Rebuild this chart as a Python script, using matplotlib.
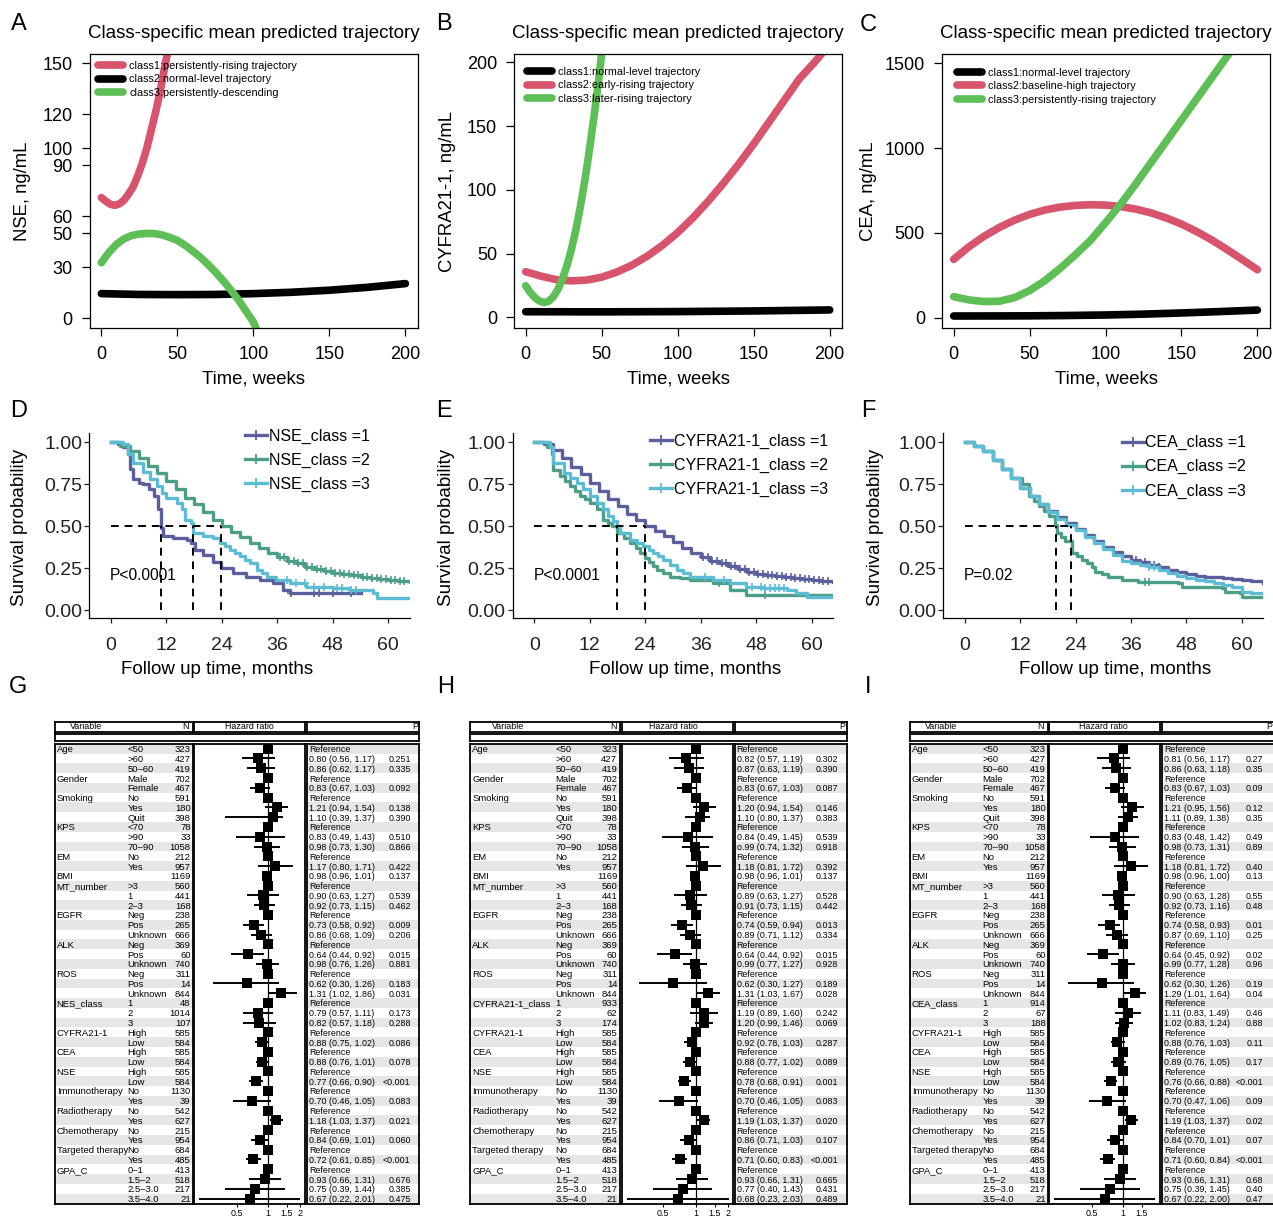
#!/usr/bin/env python3
"""
肿瘤标志物潜在类别轨迹、Kaplan-Meier生存曲线与多因素Cox森林图
"""
import numpy as np
import matplotlib
matplotlib.use('Agg')
import matplotlib.pyplot as plt
from matplotlib.lines import Line2D
from matplotlib.ticker import NullLocator

plt.rcParams['font.family'] = ['Liberation Sans', 'DejaVu Sans']

W, H = 1273, 1217

# ---------------- A-C: 各类别平均预测轨迹 ----------------
nse_weeks_1 = [0, 3, 6, 9, 12, 15, 18, 21, 24, 27, 30, 33, 36, 39, 42, 44]
nse_level_1 = [71.0, 68.8, 67.0, 66.5, 67.4, 69.6, 73.3, 77.5, 84.0, 91.5, 100.5, 111.5, 122.5, 135.0, 149.5, 158.0]
nse_weeks_2 = [0, 25, 50, 75, 100, 125, 150, 175, 200]
nse_level_2 = [14.5, 14.0, 13.9, 14.0, 14.5, 15.3, 16.5, 18.2, 20.4]
nse_weeks_3 = [0, 5, 10, 15, 20, 25, 30, 35, 40, 45, 50, 55, 60, 65, 70, 75, 80, 85, 90, 95, 100, 102]
nse_level_3 = [32.7, 38.8, 43.6, 46.8, 48.7, 49.6, 49.9, 49.8, 49.0, 47.6, 45.8, 43.0, 39.6, 36.0, 31.8, 27.2,
               22.2, 16.8, 11.0, 4.4, -2.2, -6.5]
nse_labels = ['class1:persistently-rising trajectory', 'class2:normal-level trajectory',
              'class3:persistently-descending']

cyf_weeks_1 = [0, 50, 100, 150, 200]
cyf_level_1 = [4.4, 4.3, 4.5, 5.0, 5.8]
cyf_weeks_2 = [0, 10, 20, 30, 40, 50, 60, 70, 80, 90, 100, 110, 120, 130, 140, 150, 160, 170, 180, 190, 197]
cyf_level_2 = [35.8, 32.3, 29.6, 28.6, 29.2, 31.5, 35.5, 41.0, 48.0, 56.5, 66.5, 78.0, 91.0, 105.0, 120.0,
               136.0, 153.0, 170.0, 187.0, 200.0, 210.0]
cyf_weeks_3 = [0, 3, 6, 9, 12, 15, 18, 21, 24, 27, 30, 33, 36, 39, 42, 45, 48, 50]
cyf_level_3 = [24.8, 19.5, 15.5, 12.8, 11.6, 12.5, 15.8, 21.5, 29.5, 40.0, 53.0, 68.5, 87.0, 108.0, 132.0,
               158.0, 186.0, 207.0]
cyf_labels = ['class1:normal-level trajectory', 'class2:early-rising trajectory',
              'class3:later-rising trajectory']

cea_weeks_1 = [0, 25, 50, 75, 100, 125, 150, 175, 200]
cea_level_1 = [10, 10.3, 11, 13, 16, 21, 28, 36, 45]
cea_weeks_2 = [0, 10, 20, 30, 40, 50, 60, 70, 80, 90, 100, 110, 120, 130, 140, 150, 160, 170, 180, 190, 200]
cea_level_2 = [344, 418, 480, 532, 575, 609, 635, 652, 662, 666, 664, 655, 640, 618, 588, 552, 508, 458,
               402, 343, 283]
cea_weeks_3 = [0, 10, 20, 30, 40, 50, 60, 70, 80, 90, 100, 110, 120, 130, 140, 150, 160, 170, 180, 184]
cea_level_3 = [124, 105, 95, 97, 118, 160, 218, 290, 370, 455, 560, 670, 790, 915, 1040, 1165, 1290, 1415,
               1540, 1590]
cea_labels = ['class1:normal-level trajectory', 'class2:baseline-high trajectory',
              'class3:persistently-rising trajectory']

# ---------------- D-F: 生存曲线 (月, 生存率) ----------------
nse_km_t1 = [0, 1.5, 2.7, 3.7, 4.0, 4.8, 6.0, 7.0, 8.2, 9.2, 10.2, 10.8, 11.3, 13.5, 16.4, 17.4, 18.2, 20.0,
             22.1, 23.9, 26.5, 29.3, 32.2, 35.1, 37.3, 38.7, 54.2]
nse_km_s1 = [1.00, 0.99, 0.97, 0.93, 0.84, 0.78, 0.76, 0.75, 0.72, 0.68, 0.60, 0.49, 0.44, 0.43, 0.42, 0.40,
             0.36, 0.33, 0.29, 0.25, 0.22, 0.20, 0.18, 0.16, 0.12, 0.10, 0.10]
nse_km_t2 = [0, 2, 4, 6, 8, 10, 12, 14, 16, 18, 20, 22, 24, 26, 28, 30, 32, 34, 36, 38, 40, 42, 44, 46, 48,
             50, 52, 54, 56, 58, 60, 62, 64.7]
nse_km_s2 = [1.00, 0.98, 0.945, 0.905, 0.86, 0.815, 0.77, 0.72, 0.67, 0.63, 0.585, 0.54, 0.50, 0.465, 0.435,
             0.40, 0.37, 0.34, 0.315, 0.295, 0.28, 0.26, 0.245, 0.235, 0.222, 0.215, 0.208, 0.20, 0.192,
             0.185, 0.178, 0.173, 0.17]
nse_km_t3 = [0, 2.7, 3.7, 4.8, 7.0, 8.5, 9.9, 11.0, 12.0, 14.2, 15.3, 16.0, 17.4, 17.8, 20.0, 22.1, 23.6,
             24.7, 25.7, 26.8, 27.9, 29.0, 30.0, 31.5, 32.6, 33.7, 35.8, 38.7, 42.3, 48.1, 51.7, 56.7, 57.5,
             64.7]
nse_km_s3 = [1.00, 0.99, 0.93, 0.875, 0.825, 0.78, 0.74, 0.70, 0.67, 0.64, 0.60, 0.54, 0.52, 0.46, 0.44,
             0.43, 0.40, 0.38, 0.36, 0.34, 0.32, 0.30, 0.28, 0.24, 0.22, 0.20, 0.18, 0.16, 0.14, 0.13, 0.12,
             0.10, 0.07, 0.07]
nse_cens_1 = [39, 44, 45, 48, 52]
nse_cens_2 = [36.5, 37.5, 38.5, 39.5, 40.5, 41.5, 42.5, 43.5, 44.5, 45.5, 46.5, 47.5, 48.5, 49.5, 50.5,
              51.5, 52.5, 53.5, 54.5, 55.5, 56.5, 57.5, 58.5, 59.5, 60.5, 61.5, 62.5, 63.5]
nse_cens_3 = [38, 40, 42, 44, 46, 49, 50, 52, 53]
nse_medians = [10.8, 17.8, 23.9]

cyf_km_t1 = [0, 2, 4, 6, 8, 10, 12, 14, 16, 18, 20, 22, 24, 26, 28, 30, 32, 34, 36, 38, 40, 42, 44, 46, 48,
             50, 52, 54, 56, 58, 60, 62, 64.7]
cyf_km_s1 = [1.00, 0.99, 0.955, 0.905, 0.855, 0.81, 0.76, 0.71, 0.665, 0.62, 0.575, 0.535, 0.50, 0.47, 0.44,
             0.405, 0.37, 0.34, 0.315, 0.295, 0.28, 0.262, 0.245, 0.23, 0.218, 0.208, 0.202, 0.198, 0.192,
             0.187, 0.181, 0.176, 0.17]
cyf_km_t2 = [0, 2.7, 3.7, 4.1, 5.6, 6.6, 7.7, 8.8, 9.9, 11.0, 12.0, 13.5, 14.9, 16.0, 16.7, 17.8, 19.3, 20.7,
             22.0, 22.9, 24.0, 24.7, 25.6, 26.5, 27.8, 29.4, 31.5, 33.7, 38.7, 42.3, 45.9, 64.7]
cyf_km_s2 = [1.00, 0.97, 0.93, 0.835, 0.80, 0.77, 0.74, 0.71, 0.68, 0.66, 0.64, 0.60, 0.54, 0.52, 0.50, 0.46,
             0.43, 0.40, 0.37, 0.34, 0.31, 0.29, 0.265, 0.24, 0.22, 0.20, 0.19, 0.18, 0.16, 0.12, 0.09, 0.09]
cyf_km_t3 = [0, 3.4, 4.1, 6.3, 7.7, 9.2, 10.6, 12.0, 13.5, 14.9, 16.0, 17.1, 17.8, 18.5, 20.7, 22.1, 23.6,
             24.7, 25.7, 26.8, 27.9, 29.4, 30.8, 32.2, 33.7, 38.7, 42.3, 45.9, 49.5, 54.6, 56.7, 58.9, 64.7]
cyf_km_s3 = [1.00, 0.97, 0.875, 0.815, 0.79, 0.755, 0.72, 0.68, 0.64, 0.60, 0.56, 0.53, 0.50, 0.46, 0.42,
             0.40, 0.38, 0.36, 0.34, 0.32, 0.30, 0.27, 0.24, 0.22, 0.20, 0.18, 0.16, 0.14, 0.13, 0.12, 0.10,
             0.08, 0.08]
cyf_cens_1 = [36.5, 37.5, 38.5, 39.5, 40.5, 41.5, 42.5, 43.5, 44.5, 45.5, 46.5, 47.5, 48.5, 49.5, 50.5,
              51.5, 52.5, 53.5, 54.5, 55.5, 56.5, 57.5, 58.5, 59.5, 60.5, 61.5, 62.5, 63.5]
cyf_cens_2 = [40, 50]
cyf_cens_3 = [37, 41, 47, 49, 50, 51, 52, 53, 54]
cyf_medians = [23.9, 17.8, 17.8]

cea_km_t1 = [0, 2, 4, 6, 8, 10, 12, 14, 16, 18, 20, 22, 24, 26, 28, 30, 32, 34, 36, 38, 40, 42, 44, 46, 48,
             50, 52, 54, 56, 58, 60, 62, 64.7]
cea_km_s1 = [1.00, 0.98, 0.945, 0.895, 0.84, 0.785, 0.73, 0.68, 0.63, 0.59, 0.555, 0.52, 0.485, 0.445, 0.41,
             0.375, 0.345, 0.32, 0.30, 0.285, 0.27, 0.255, 0.238, 0.225, 0.213, 0.205, 0.20, 0.195, 0.19,
             0.184, 0.178, 0.172, 0.165]
cea_km_t2 = [0, 2, 4, 6, 8, 10, 12.4, 13.8, 15, 16, 17.2, 18.2, 19.6, 20.0, 20.9, 21.8, 23.2, 24.3, 25.4,
             26.5, 27.5, 28.3, 29.7, 31.1, 34.0, 37.6, 46.3, 47.0, 55.7, 56.4, 59.6, 60.0, 64.7]
cea_km_s2 = [1.00, 0.98, 0.945, 0.895, 0.84, 0.785, 0.75, 0.68, 0.65, 0.62, 0.59, 0.56, 0.51, 0.46, 0.435,
             0.41, 0.34, 0.32, 0.30, 0.28, 0.26, 0.23, 0.215, 0.20, 0.18, 0.17, 0.16, 0.14, 0.13, 0.11, 0.10,
             0.08, 0.08]
cea_km_t3 = [0, 2, 4, 6, 8, 10, 12, 14, 16, 18, 20, 22, 24, 26, 28, 30, 32, 34, 36, 38, 40, 42, 44, 46, 48,
             50, 52, 54, 56, 58, 60, 62, 64.7]
cea_km_s3 = [1.00, 0.98, 0.945, 0.895, 0.84, 0.785, 0.73, 0.68, 0.63, 0.585, 0.545, 0.51, 0.475, 0.435, 0.40,
             0.365, 0.33, 0.295, 0.28, 0.27, 0.255, 0.24, 0.222, 0.205, 0.193, 0.182, 0.172, 0.16, 0.15,
             0.138, 0.11, 0.105, 0.10]
cea_cens_1 = [37, 39, 40, 41, 42]
cea_cens_2 = [39, 40]
cea_cens_3 = [40, 41]
cea_medians = [23.1, 19.8, 23.1]

# ---------------- G-I: 多因素Cox回归 ----------------
head_vars = ['Age', '', '', 'Gender', '', 'Smoking', '', '', 'KPS', '', '', 'EM', '', 'BMI', 'MT_number', '',
             '', 'EGFR', '', '', 'ALK', '', '', 'ROS', '', '']
head_levels = ['<50', '>60', '50–60', 'Male', 'Female', 'No', 'Yes', 'Quit', '<70', '>90', '70–90', 'No',
               'Yes', '', '>3', '1', '2–3', 'Neg', 'Pos', 'Unknown', 'Neg', 'Pos', 'Unknown', 'Neg', 'Pos',
               'Unknown']
head_n = [323, 427, 419, 702, 467, 591, 180, 398, 78, 33, 1058, 212, 957, 1169, 560, 441, 168, 238, 265, 666,
          369, 60, 740, 311, 14, 844]
class_levels = ['1', '2', '3']
tail_vars = ['CYFRA21-1', '', 'CEA', '', 'NSE', '', 'Immunotherapy', '', 'Radiotherapy', '', 'Chemotherapy',
             '', 'Targeted therapy', '', 'GPA_C', '', '', '']
tail_levels = ['High', 'Low', 'High', 'Low', 'High', 'Low', 'No', 'Yes', 'No', 'Yes', 'No', 'Yes', 'No', 'Yes',
               '0–1', '1.5–2', '2.5–3.0', '3.5–4.0']
tail_n = [585, 584, 585, 584, 585, 584, 1130, 39, 542, 627, 215, 954, 684, 485, 413, 518, 217, 21]

nse_class_n = [48, 1014, 107]
cyf_class_n = [933, 62, 174]
cea_class_n = [914, 67, 188]

g_est = ['Reference', '0.80 (0.56, 1.17)', '0.86 (0.62, 1.17)', 'Reference', '0.83 (0.67, 1.03)',
         'Reference', '1.21 (0.94, 1.54)', '1.10 (0.39, 1.37)', 'Reference', '0.83 (0.49, 1.43)',
         '0.98 (0.73, 1.30)', 'Reference', '1.17 (0.80, 1.71)', '0.98 (0.96, 1.01)', 'Reference',
         '0.90 (0.63, 1.27)', '0.92 (0.73, 1.15)', 'Reference', '0.73 (0.58, 0.92)', '0.86 (0.68, 1.09)',
         'Reference', '0.64 (0.44, 0.92)', '0.98 (0.76, 1.26)', 'Reference', '0.62 (0.30, 1.26)',
         '1.31 (1.02, 1.86)', 'Reference', '0.79 (0.57, 1.11)', '0.82 (0.57, 1.18)', 'Reference',
         '0.88 (0.75, 1.02)', 'Reference', '0.88 (0.76, 1.01)', 'Reference', '0.77 (0.66, 0.90)',
         'Reference', '0.70 (0.46, 1.05)', 'Reference', '1.18 (1.03, 1.37)', 'Reference',
         '0.84 (0.69, 1.01)', 'Reference', '0.72 (0.61, 0.85)', 'Reference', '0.93 (0.66, 1.31)',
         '0.75 (0.39, 1.44)', '0.67 (0.22, 2.01)']
g_p = ['', '0.251', '0.335', '', '0.092', '', '0.138', '0.390', '', '0.510', '0.866', '', '0.422', '0.137',
       '', '0.539', '0.462', '', '0.009', '0.206', '', '0.015', '0.881', '', '0.183', '0.031', '', '0.173',
       '0.288', '', '0.086', '', '0.078', '', '<0.001', '', '0.083', '', '0.021', '', '0.060', '', '<0.001',
       '', '0.676', '0.385', '0.475']

h_est = ['Reference', '0.82 (0.57, 1.19)', '0.87 (0.63, 1.19)', 'Reference', 'o.83 (0.67, 1.03)',
         'Reference', '1.20 (0.94, 1.54)', '1.10 (0.80, 1.37)', 'Reference', '0.84 (0.49, 1.45)',
         'o.99 (0.74, 1.32)', 'Reference', '1.18 (0.81, 1.72)', '0.98 (0.96, 1.01)', 'Reference',
         '0.89 (0.63, 1.27)', '0.91 (0.73, 1.15)', 'Reference', '0.74 (0.59, 0.94)', '0.89 (0.71, 1.12)',
         'Reference', '0.64 (0.44, 0.92)', '0.99 (0.77, 1.27)', 'Reference', '0.62 (0.30, 1.27)',
         '1.31 (1.03, 1.67)', 'Reference', '1.19 (0.89, 1.60)', '1.20 (0.99, 1.46)', 'Reference',
         '0.92 (0.78, 1.03)', 'Reference', '0.88 (0.77, 1.02)', 'Reference', '0.78 (0.68, 0.91)',
         'Reference', '0.70 (0.46, 1.05)', 'Reference', '1.19 (1.03, 1.37)', 'Reference',
         '0.86 (0.71, 1.03)', 'Reference', '0.71 (0.60, 0.83)', 'Reference', '0.93 (0.66, 1.31)',
         '0.77 (0.40, 1.43)', '0.68 (0.23, 2.03)']
h_p = ['', '0.302', '0.390', '', '0.087', '', '0.146', '0.383', '', '0.539', '0.918', '', '0.392', '0.137',
       '', '0.528', '0.442', '', '0.013', '0.334', '', '0.015', '0.928', '', '0.189', '0.028', '', '0.242',
       '0.069', '', '0.287', '', '0.089', '', '0.001', '', '0.083', '', '0.020', '', '0.107', '', '<0.001',
       '', '0.665', '0.431', '0.489']

i_est = ['Reference', '0.81 (0.56, 1.17)', '0.86 (0.63, 1.18)', 'Reference', '0.83 (0.67, 1.03)',
         'Reference', '1.21 (0.95, 1.56)', '1.11 (0.89, 1.38)', 'Reference', '0.83 (0.48, 1.42)',
         '0.98 (0.73, 1.31)', 'Reference', '1.18 (0.81, 1.72)', '0.98 (0.96, 1.00)', 'Reference',
         '0.90 (0.63, 1.28)', '0.92 (0.73, 1.16)', 'Reference', '0.74 (0.58, 0.93)', '0.87 (0.69, 1.10)',
         'Reference', '0.64 (0.45, 0.92)', 'o.99 (0.77, 1.28)', 'Reference', '0.62 (0.30, 1.26)',
         '1.29 (1.01, 1.64)', 'Reference', '1.11 (0.83, 1.49)', '1.02 (0.83, 1.24)', 'Reference',
         '0.88 (0.76, 1.03)', 'Reference', '0.89 (0.76, 1.05)', 'Reference', '0.76 (0.66, 0.88)',
         'Reference', '0.70 (0.47, 1.06)', 'Reference', '1.19 (1.03, 1.37)', 'Reference',
         '0.84 (0.70, 1.01)', 'Reference', '0.71 (0.60, 0.84)', 'Reference', '0.93 (0.66, 1.31)',
         '0.75 (0.39, 1.45)', '0.67 (0.22, 2.00)']
i_p = ['', '0.27', '0.35', '', '0.09', '', '0.12', '0.35', '', '0.49', '0.89', '', '0.40', '0.13', '',
       '0.55', '0.48', '', '0.01', '0.25', '', '0.02', '0.96', '', '0.19', '0.04', '', '0.46', '0.88', '',
       '0.11', '', '0.17', '', '<0.001', '', '0.09', '', '0.02', '', '0.07', '', '<0.001', '', '0.68',
       '0.40', '0.47']

# 颜色
RED, GREEN = '#D8536C', '#5FBF57'
KM_COLORS = ['#5B5F9C', '#4C9F86', '#5CBCD4']
STRIPE = '#E6E6E6'

fig = plt.figure(figsize=(W / 100, H / 100), dpi=100)


def px_axes(x0, y0, x1, y1):
    """按像素位置添加坐标轴 (左上为原点)"""
    return fig.add_axes([x0 / W, 1 - y1 / H, (x1 - x0) / W, (y1 - y0) / H])


def ftext(x, y, s, **kw):
    fig.text(x / W, 1 - y / H, s, **kw)


def plot_trajectory(rect, curves, ylim, yticks, ylabel, labels, leg_xy, ylab_x):
    ax = px_axes(*rect)
    handles = []
    for (t, v, c), lab in zip(curves, labels):
        ax.plot(t, v, color=c, lw=5.5, solid_capstyle='round', solid_joinstyle='round')
        handles.append(Line2D([], [], color=c, lw=5.5, solid_capstyle='round', label=lab))
    ax.set_xlim(-7.5, 208.3)
    ax.set_ylim(*ylim)
    ax.set_xticks([0, 50, 100, 150, 200])
    ax.set_yticks(yticks)
    ax.tick_params(direction='out', length=5.5, width=0.9, pad=7, labelsize=13)
    for sp in ax.spines.values():
        sp.set_linewidth(0.9)
    ax.legend(handles=handles, loc='upper left', bbox_to_anchor=leg_xy, frameon=False,
              fontsize=7.8, handlelength=2.3, handletextpad=0.6, labelspacing=0.3,
              borderpad=0, borderaxespad=0)
    cx = (rect[0] + rect[2]) / 2
    ftext(cx, 33.5, 'Class-specific mean predicted trajectory', ha='center', va='center', fontsize=13.5)
    ftext(cx, 379, 'Time, weeks', ha='center', va='center', fontsize=13.3)
    ftext(ylab_x, 191, ylabel, ha='center', va='center', rotation=90, fontsize=13.3)
    return ax


def step_value(t, s, x):
    idx = np.searchsorted(t, x, side='right') - 1
    return np.asarray(s)[idx]


def plot_km(rect, curves, cens, medians, labels, leg_xy, pval, ylab_x, xlab_x):
    ax = px_axes(*rect)
    handles = []
    for (t, s), cz, c, lab in zip(curves, cens, KM_COLORS, labels):
        ax.step(t, s, where='post', color=c, lw=2.4)
        ax.plot(cz, step_value(t, s, cz), '+', color=c, ms=6, mew=1.2)
        handles.append(Line2D([], [], color=c, lw=2.4, marker='+', ms=7, mew=1.3, label=lab))
    # 中位生存时间
    ax.plot([0, max(medians)], [0.5, 0.5], ls=(0, (4, 3)), color='black', lw=1.4)
    ax.vlines(sorted(set(medians)), 0, 0.5, linestyles=(0, (4, 3)), color='black', lw=1.4)
    ax.text(-0.2, 0.205, pval, fontsize=11.2, ha='left', va='center')
    ax.set_xlim(-4.7, 64.7)
    ax.set_ylim(-0.048, 1.055)
    ax.set_xticks([0, 12, 24, 36, 48, 60])
    ax.set_yticks([0, 0.25, 0.5, 0.75, 1.0])
    ax.set_yticklabels(['0.00', '0.25', '0.50', '0.75', '1.00'])
    ax.spines['top'].set_visible(False)
    ax.spines['right'].set_visible(False)
    for sp in ('left', 'bottom'):
        ax.spines[sp].set_linewidth(0.9)
    ax.tick_params(length=3.6, width=0.9, labelsize=14, colors='#222222')
    ax.tick_params(axis='x', pad=10)
    ax.tick_params(axis='y', pad=1.5)
    ax.legend(handles=handles, loc='upper left', bbox_to_anchor=leg_xy, frameon=False, fontsize=11.5,
              handlelength=1.4, handletextpad=0.08, labelspacing=0.56, borderpad=0, borderaxespad=0)
    ftext(xlab_x, 669, 'Follow up time, months', ha='center', va='center', fontsize=13.5)
    ftext(ylab_x, 527, 'Survival probability', ha='center', va='center', rotation=90, fontsize=13.5)
    return ax


def parse_est(s):
    """从 'HR (low, high)' 文本中取出数值"""
    if s == 'Reference':
        return 1.0, np.nan, np.nan
    hr, rest = s.replace('o.', '0.').split(' (')
    lo, hi = rest.rstrip(')').split(', ')
    return float(hr), float(lo), float(hi)


ROW0, ROW_H = 748.7, 9.78
BODY_TOP, BODY_BOT = 744.0, 1204.3


def boxed(ax, lw=1.3):
    ax.set_xticks([])
    ax.set_yticks([])
    for sp in ax.spines.values():
        sp.set_linewidth(lw)
        sp.set_color('black')


def plot_forest(g, class_var, class_n, est, pvals, ticks):
    variables = head_vars + [class_var, '', ''] + tail_vars
    levels = head_levels + class_levels + tail_levels
    counts = head_n + class_n + tail_n
    vals = np.array([parse_est(s) for s in est])
    hr, lo, hi = vals[:, 0], vals[:, 1], vals[:, 2]
    rows = np.arange(len(est))
    ylim = ((BODY_BOT - ROW0) / ROW_H, (BODY_TOP - ROW0) / ROW_H)
    fs_l, fs_r = 6.8, 6.4

    # 表头
    for a, b in [(g['x0'], g['x1']), (g['x2'], g['x3']), (g['x4'], g['x5'])]:
        boxed(px_axes(a, 722, b, 731.5))
    boxed(px_axes(g['x0'], 733.7, g['x5'], 741.3))
    ftext(g['hvar'], 726.8, 'Variable', ha='left', va='center', fontsize=fs_r)
    ftext(g['hn'], 726.8, 'N', ha='right', va='center', fontsize=fs_r)
    ftext(g['hhr'], 726.8, 'Hazard ratio', ha='center', va='center', fontsize=fs_r)
    ftext(g['hp'], 726.8, 'P', ha='right', va='center', fontsize=fs_r)

    # 左侧变量表
    lax = px_axes(g['x0'], BODY_TOP, g['x1'], BODY_BOT)
    lax.set_xlim(g['x0'], g['x1'])
    lax.set_ylim(*ylim)
    boxed(lax)
    for r in rows[::2]:
        lax.axhspan(r - 0.5, r + 0.5, color=STRIPE, lw=0)
    for r, v, lv, n in zip(rows, variables, levels, counts):
        lax.text(g['var'], r, v, ha='left', va='center_baseline', fontsize=fs_l)
        lax.text(g['lvl'], r, lv, ha='left', va='center_baseline', fontsize=fs_l)
        lax.text(g['n'], r, str(n), ha='right', va='center_baseline', fontsize=fs_l)

    # 中间森林图
    fax = px_axes(g['x2'], BODY_TOP, g['x3'], BODY_BOT)
    fax.set_xscale('log')
    fax.set_xlim(np.exp((g['x2'] - g['one']) / g['ppl']), np.exp((g['x3'] - g['one']) / g['ppl']))
    fax.set_ylim(*ylim)
    fax.axvline(1, color='black', lw=0.9)
    ok = ~np.isnan(lo)
    fax.hlines(rows[ok], lo[ok], hi[ok], color='black', lw=1.4)
    fax.plot(hr, rows, 's', color='black', ms=6.8, mew=0)
    fax.set_yticks([])
    fax.set_xticks(ticks)
    fax.set_xticklabels(['%g' % t for t in ticks])
    fax.xaxis.set_minor_locator(NullLocator())
    fax.tick_params(axis='x', length=2, width=0.8, pad=1.5, labelsize=fs_r)
    for sp in fax.spines.values():
        sp.set_linewidth(1.3)

    # 右侧 HR 与 P 值
    rax = px_axes(g['x4'], BODY_TOP, g['x5'], BODY_BOT)
    rax.set_xlim(g['x4'], g['x5'])
    rax.set_ylim(*ylim)
    boxed(rax)
    for r in rows[::2]:
        rax.axhspan(r - 0.5, r + 0.5, color=STRIPE, lw=0)
    for r, s, p in zip(rows, est, pvals):
        rax.text(g['est'], r, s, ha='left', va='center_baseline', fontsize=fs_r)
        rax.text(g['p'], r, p, ha='right', va='center_baseline', fontsize=fs_r)


# ---------------- 绘图 ----------------
plot_trajectory((90, 54.3, 418, 328.3),
                [(nse_weeks_1, nse_level_1, RED), (nse_weeks_2, nse_level_2, 'black'),
                 (nse_weeks_3, nse_level_3, GREEN)],
                (-5.9, 155.3), [0, 30, 50, 60, 90, 100, 120, 150], 'NSE, ng/mL', nse_labels,
                (0.0235, 0.975), 23)
plot_trajectory((514.3, 54.3, 842.3, 328.3),
                [(cyf_weeks_1, cyf_level_1, 'black'), (cyf_weeks_2, cyf_level_2, RED),
                 (cyf_weeks_3, cyf_level_3, GREEN)],
                (-8.6, 206.3), [0, 50, 100, 150, 200], 'CYFRA21-1, ng/mL', cyf_labels,
                (0.038, 0.953), 447)
plot_trajectory((942.3, 54.3, 1270, 328.3),
                [(cea_weeks_1, cea_level_1, 'black'), (cea_weeks_2, cea_level_2, RED),
                 (cea_weeks_3, cea_level_3, GREEN)],
                (-62.5, 1553), [0, 500, 1000, 1500], 'CEA, ng/mL', cea_labels,
                (0.044, 0.950), 868)

plot_km((89.3, 433, 410, 618.3),
        [(nse_km_t1, nse_km_s1), (nse_km_t2, nse_km_s2), (nse_km_t3, nse_km_s3)],
        [nse_cens_1, nse_cens_2, nse_cens_3], nse_medians,
        ['NSE_class =1', 'NSE_class =2', 'NSE_class =3'], (0.4855, 1.023), 'P<0.0001', 20, 216.7)
plot_km((512.7, 433, 833.3, 618.3),
        [(cyf_km_t1, cyf_km_s1), (cyf_km_t2, cyf_km_s2), (cyf_km_t3, cyf_km_s3)],
        [cyf_cens_1, cyf_cens_2, cyf_cens_3], cyf_medians,
        ['CYFRA21-1_class =1', 'CYFRA21-1_class =2', 'CYFRA21-1_class =3'], (0.428, 0.996), 'P<0.0001',
        446.7, 685)
plot_km((943.3, 433, 1263.3, 618.3),
        [(cea_km_t1, cea_km_s1), (cea_km_t2, cea_km_s2), (cea_km_t3, cea_km_s3)],
        [cea_cens_1, cea_cens_2, cea_cens_3], cea_medians,
        ['CEA_class =1', 'CEA_class =2', 'CEA_class =3'], (0.5575, 0.988), 'P=0.02', 875, 1115)

geo_g = dict(x0=55, x1=192.7, x2=194, x3=305, x4=306.7, x5=419.3, var=56.7, lvl=127.3, n=190.7, est=309.3,
             p=410.7, one=268.3, ppl=45.6, hvar=70, hn=188.3, hhr=249, hp=417.7)
geo_h = dict(x0=470, x1=620, x2=621.7, x3=733.3, x4=735, x5=846.7, var=472.3, lvl=555.7, n=617.3, est=736.7,
             p=838.3, one=695.7, ppl=46.7, hvar=491.7, hn=616.7, hhr=673, hp=845)
geo_i = dict(x0=910, x1=1047.7, x2=1049, x3=1160, x4=1161.7, x5=1276, var=911.7, lvl=982.3, n=1045.7,
             est=1164.3, p=1263.3, one=1123.3, ppl=45.6, hvar=925, hn=1043.3, hhr=1103.3, hp=1271.7)

plot_forest(geo_g, 'NES_class', nse_class_n, g_est, g_p, [0.5, 1, 1.5, 2])
plot_forest(geo_h, 'CYFRA21-1_class', cyf_class_n, h_est, h_p, [0.5, 1, 1.5, 2])
plot_forest(geo_i, 'CEA_class', cea_class_n, i_est, i_p, [0.5, 1, 1.5])

# 面板字母
for letter, x, y in [('A', 19, 24), ('B', 444, 24), ('C', 868, 25), ('D', 19, 411), ('E', 444, 411),
                     ('F', 868, 411), ('G', 18, 687), ('H', 446, 687), ('I', 868, 687)]:
    ftext(x, y, letter, ha='center', va='center', fontsize=17)

fig.savefig('out.png', dpi=100)
